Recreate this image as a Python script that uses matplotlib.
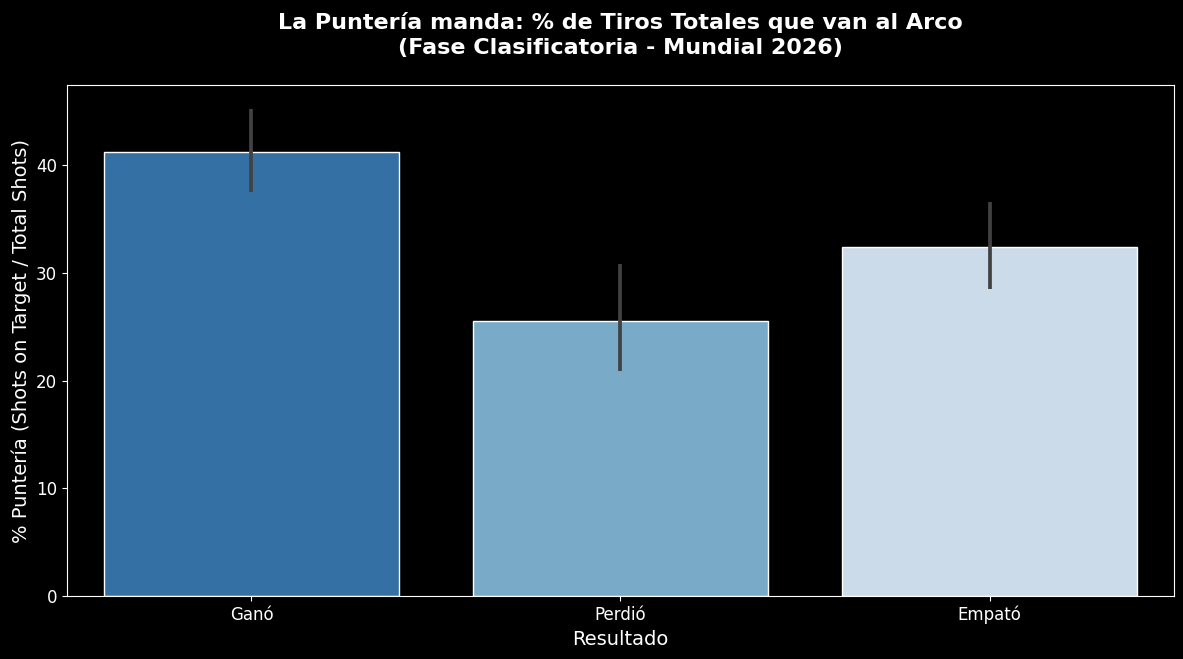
import matplotlib
matplotlib.use("Agg")
import matplotlib.pyplot as plt
import seaborn as sns
import pandas as pd

# Datos
resultados = ["Ganó", "Perdió", "Empató"]
punteria = [41.2, 25.5, 32.4]
ic_bajo = [37.5, 20.9, 28.5]
ic_alto = [45.2, 30.8, 36.6]

plt.style.use("dark_background")
fig, ax = plt.subplots(figsize=(11.83, 6.59), dpi=100)

df = pd.DataFrame({"Resultado": resultados, "Punteria": punteria})
sns.barplot(data=df, x="Resultado", y="Punteria", hue="Resultado",
            palette="Blues_r", edgecolor="white", errorbar=None,
            legend=False, ax=ax)
# intervalos de confianza
ax.vlines(range(len(resultados)), ic_bajo, ic_alto, color="#424242",
          linewidth=2.7, zorder=3)
ax.set_xlim(-0.5, len(resultados) - 0.5)

ax.set_title("La Puntería manda: % de Tiros Totales que van al Arco\n"
             "(Fase Clasificatoria - Mundial 2026)",
             fontsize=16, fontweight="bold", pad=22, linespacing=1.35)
ax.set_xlabel("Resultado", fontsize=14)
ax.set_ylabel("% Puntería (Shots on Target / Total Shots)", fontsize=14)
ax.tick_params(labelsize=12)

fig.subplots_adjust(left=0.0566, right=0.9924, top=0.871, bottom=0.0956)
plt.savefig("out.png", dpi=100)
